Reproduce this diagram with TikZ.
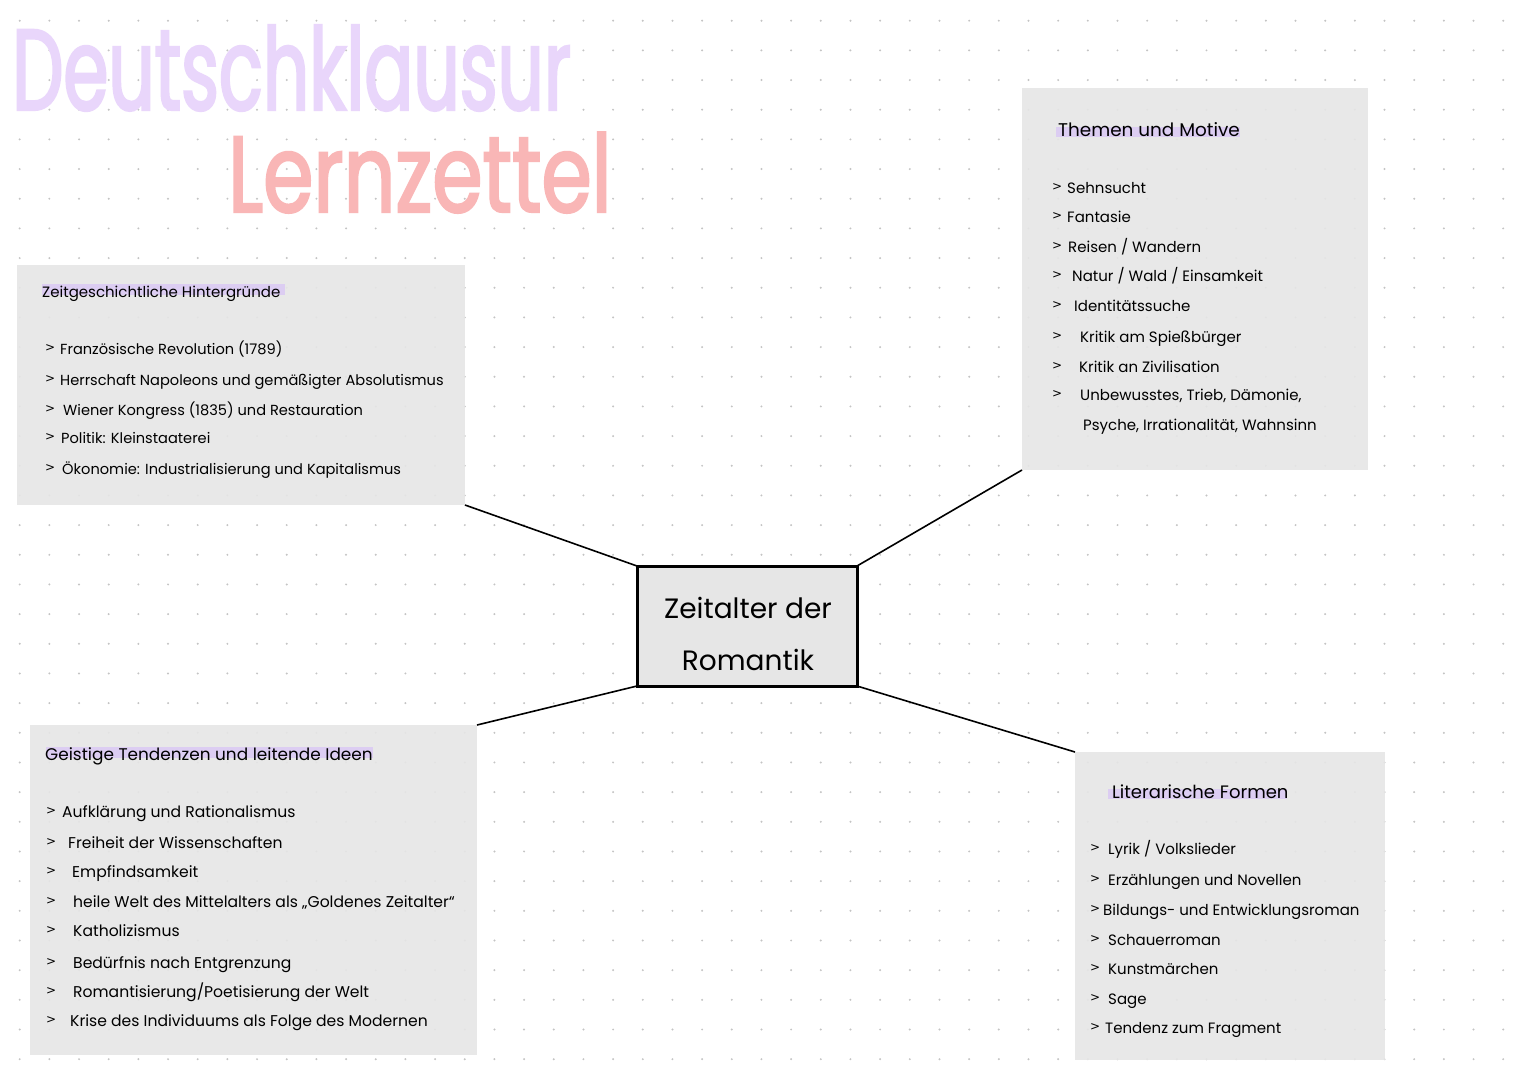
\documentclass[tikz,border=0pt]{standalone}
\usepackage{fontspec}
\setmainfont{Poppins}
\newfontfamily\titlefontA[FakeStretch=0.63,FakeBold=2]{Poppins}
\newfontfamily\titlefontB[FakeStretch=0.75,FakeBold=2]{Poppins}
\newfontfamily\markfont{DejaVu Sans}
\definecolor{boxc}{HTML}{E6E6E6}
\definecolor{dotc}{HTML}{C4C4C4}
\definecolor{hlc}{HTML}{DCCDF2}
\definecolor{titlep}{HTML}{E9D6FB}
\definecolor{titler}{HTML}{F9B6B6}
\tikzset{
  infobox/.style={fill=boxc, fill opacity=0.9, draw=none, inner sep=0pt, outer sep=0pt, anchor=north west},
  centerbox/.style={fill=boxc, draw=black, line width=3pt, inner sep=0pt, outer sep=0pt, anchor=north west},
  itemtext/.style={anchor=base west, inner sep=0pt, font=\fontsize{15}{17}\selectfont},
  marker/.style={anchor=base west, inner sep=0pt, font=\markfont\fontsize{12}{14}\selectfont},
  headtext/.style={anchor=base west, inner sep=0pt},
  link/.style={line width=1.6pt, black},
  hl/.style={fill=hlc, draw=none}
}
\begin{document}
\begin{tikzpicture}[x=1pt,y=-1pt]
\useasboundingbox (0,0) rectangle (1525,1080);
\fill[white] (0,0) rectangle (1525,1080);
% dot grid
\foreach \i in {0,...,50}{
  \foreach \j in {0,...,35}{
    \fill[dotc] (19.7+29.67*\i, 20.7+29.67*\j) circle (1.1);
  }
}
% title
\node[headtext, text=titlep, font=\titlefontA\fontsize{115}{125}\selectfont] (title1) at (12,110) {Deutschklausur};
\node[headtext, text=titler, font=\titlefontB\fontsize{108}{118}\selectfont] (title2) at (228,212) {Lernzettel};
% boxes
\node[infobox, minimum width=448pt, minimum height=240pt] (b1) at (17,265) {};
\node[infobox, minimum width=346pt, minimum height=382pt] (b2) at (1022,88) {};
\node[infobox, minimum width=447pt, minimum height=330pt] (b3) at (30,725) {};
\node[infobox, minimum width=310pt, minimum height=308pt] (b4) at (1075,752) {};
% highlights
\fill[hl] (42,284) rectangle (285,295);
\fill[hl] (1056,127) rectangle (1240,137);
\fill[hl] (46,747) rectangle (373,758);
\fill[hl] (1108,789) rectangle (1287,799);
% headings
\node[headtext, font=\fontsize{15}{17}\selectfont] (h1) at (42,297) {Zeitgeschichtliche Hintergründe};
\node[headtext, font=\fontsize{18.4}{20}\selectfont] (h2) at (1058,136) {Themen und Motive};
\node[headtext, font=\fontsize{16.9}{19}\selectfont] (h3) at (45,760) {Geistige Tendenzen und leitende Ideen};
\node[headtext, font=\fontsize{18}{20}\selectfont] (h4) at (1112,798) {Literarische Formen};
% items box 1
\foreach \y/\x/\t [count=\i] in {354/60/{Französische Revolution (1789)},
  385/60/{Herrschaft Napoleons und gemäßigter Absolutismus},
  415/63/{Wiener Kongress (1835) und Restauration},
  443/61/{Politik: Kleinstaaterei},
  474/62/{Ökonomie: Industrialisierung und Kapitalismus}}{
  \node[marker] (m1-\i) at (45,\y-3) {>};
  \node[itemtext, font=\fontsize{14.6}{17}\selectfont] (t1-\i) at (\x,\y) {\t};
}
% items box 2
\foreach \y/\x/\t [count=\i] in {193/1067/{Sehnsucht},
  222/1067/{Fantasie},
  252/1068/{Reisen / Wandern},
  281/1072/{Natur / Wald / Einsamkeit},
  311/1074/{Identitätssuche},
  342/1080/{Kritik am Spießbürger},
  372/1079/{Kritik an Zivilisation},
  400/1080/{Unbewusstes, Trieb, Dämonie,}}{
  \node[marker] (m2-\i) at (1052,\y-3) {>};
  \node[itemtext] (t2-\i) at (\x,\y) {\t};
}
\node[itemtext] (t2-9) at (1083,430) {Psyche, Irrationalität, Wahnsinn};
% items box 3
\foreach \y/\x/\t [count=\i] in {817/62/{Aufklärung und Rationalismus},
  848/68/{Freiheit der Wissenschaften},
  877/72/{Empfindsamkeit},
  907/73/{heile Welt des Mittelalters als „Goldenes Zeitalter“},
  936/73/{Katholizismus},
  968/73/{Bedürfnis nach Entgrenzung},
  997/73/{Romantisierung/Poetisierung der Welt},
  1026/70/{Krise des Individuums als Folge des Modernen}}{
  \node[marker] (m3-\i) at (46,\y-3) {>};
  \node[itemtext, font=\fontsize{15.6}{18}\selectfont] (t3-\i) at (\x,\y) {\t};
}
% items box 4
\foreach \y/\x/\t [count=\i] in {854/1108/{Lyrik / Volkslieder},
  885/1108/{Erzählungen und Novellen},
  915/1103/{Bildungs- und Entwicklungsroman},
  945/1108/{Schauerroman},
  974/1108/{Kunstmärchen},
  1004/1108/{Sage},
  1033/1105/{Tendenz zum Fragment}}{
  \node[marker] (m4-\i) at (1090,\y-3) {>};
  \node[itemtext] (t4-\i) at (\x,\y) {\t};
}
% center
\node[centerbox, minimum width=220pt, minimum height=120pt] (c) at (637,566) {};
\node[anchor=base, inner sep=0pt, font=\fontsize{28}{30}\selectfont] (c1) at (748,618) {Zeitalter der};
\node[anchor=base, inner sep=0pt, font=\fontsize{28}{30}\selectfont] (c2) at (748,670) {Romantik};
% connectors
\draw[link] (b1.south east) -- (c.north west);
\draw[link] (b2.south west) -- (c.north east);
\draw[link] (b3.north east) -- (c.south west);
\draw[link] (b4.north west) -- (c.south east);
\end{tikzpicture}
\end{document}
